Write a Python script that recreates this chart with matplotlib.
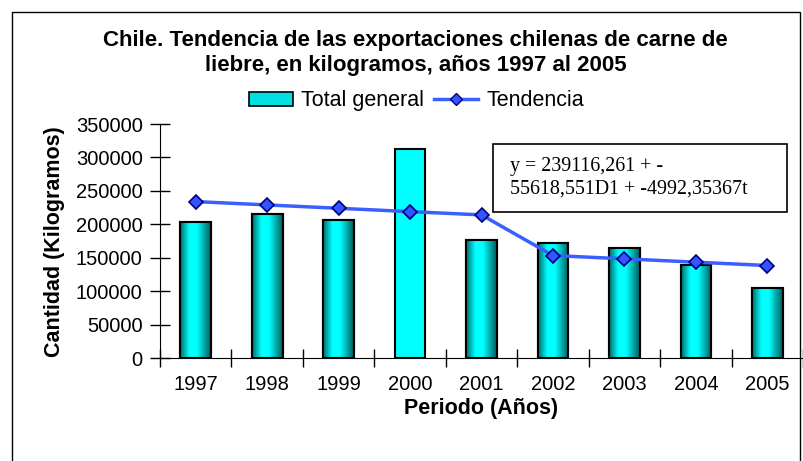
import numpy as np
import matplotlib
matplotlib.use("Agg")
import matplotlib.pyplot as plt
from matplotlib.colors import LinearSegmentedColormap
from matplotlib.patches import Rectangle
from matplotlib.lines import Line2D

anios = ["1997", "1998", "1999", "2000", "2001", "2002", "2003", "2004", "2005"]
total_general = [204000, 215000, 206500, 313000, 177000, 172500, 165000, 139700, 104900]
tendencia = [234100, 229100, 224100, 219100, 214200, 153500, 148600, 143600, 138600]
yticks = [0, 50000, 100000, 150000, 200000, 250000, 300000, 350000]

plt.rcParams['font.family'] = ['Liberation Sans', 'DejaVu Sans']

fig = plt.figure(figsize=(8.04, 4.61), dpi=100)
ax = fig.add_axes([0.199, 0.2228, 0.7998, 0.5082])

# borde exterior del grafico
fig.patches.append(Rectangle((12/804, -0.05), 788/804, 1.05 - 12/461, transform=fig.transFigure,
                             fill=False, edgecolor="black", linewidth=1.0))

x = np.arange(len(anios))
barras = ax.bar(x, total_general, width=0.43, color="#00FFFF", edgecolor="black",
                linewidth=1.5, zorder=2, label="Total general")

# degradado horizontal de las barras (excepto 2000 que es plana)
cmap = LinearSegmentedColormap.from_list("cian", [(0.0, (0, 0.42, 0.42)), (0.3, (0, 1, 1)),
                                                   (0.55, (0, 1, 1)), (1.0, (0, 0.36, 0.36))])
grad = np.linspace(0, 1, 100).reshape(1, -1)
for k, b in enumerate(barras):
    if anios[k] == "2000":
        continue
    im = ax.imshow(grad, cmap=cmap, aspect="auto", zorder=2.1,
                   extent=[b.get_x(), b.get_x() + b.get_width(), 0, b.get_height()])
    im.set_clip_path(b)
    ax.add_patch(Rectangle((b.get_x(), 0), b.get_width(), b.get_height(), fill=False,
                           edgecolor="black", linewidth=1.5, zorder=2.2))

ax.plot(x, tendencia, color="#3A5FFF", linewidth=2.5, marker="D", markersize=7,
        markerfacecolor="#3355FF", markeredgecolor="#000080", markeredgewidth=1.2,
        zorder=3, label="Tendencia")

ax.set_xlim(-0.5, len(anios) - 0.5)
ax.set_ylim(0, 350000)
ax.set_yticks(yticks)
ax.set_yticklabels([str(v) for v in yticks], fontsize=14.5)
ax.set_xticks(np.arange(len(anios) + 1) - 0.5)
ax.set_xticklabels([])
ax.set_xticks(x, minor=True)
ax.set_xticklabels(anios, minor=True, fontsize=14.5)
ax.tick_params(axis="x", which="minor", length=0, pad=12)
ax.tick_params(axis="x", which="major", direction="inout", length=13, width=1)
ax.tick_params(axis="y", which="major", direction="inout", length=15, width=1, pad=5)
ax.spines["top"].set_visible(False)
ax.spines["right"].set_visible(False)

ax.set_ylabel("Cantidad (Kilogramos)", fontsize=15.5, fontweight="bold", labelpad=8)
ax.set_xlabel("Periodo (Años)", fontsize=15.5, fontweight="bold", labelpad=3)

fig.text(0.517, 0.885, "Chile. Tendencia de las exportaciones chilenas de carne de\n"
         "liebre, en kilogramos, años 1997 al 2005", ha="center", va="center",
         fontsize=16, fontweight="bold", linespacing=1.3)

handles = [Rectangle((0, 0), 1, 1, facecolor="#00E0E0", edgecolor="black", linewidth=1.2),
           Line2D([], [], color="#3A5FFF", linewidth=2.5, marker="D", markersize=6,
                  markerfacecolor="#3355FF", markeredgecolor="#000080")]
fig.legend(handles, ["Total general", "Tendencia"], loc="center", bbox_to_anchor=(0.518, 0.781),
           ncol=2, frameon=False, fontsize=15.5, handlelength=2.05, handletextpad=0.37,
           columnspacing=0.47, handleheight=0.6)

# cuadro de la ecuacion
ax.add_patch(Rectangle((0.518, 0.625), 0.457, 0.29, transform=ax.transAxes, facecolor="white",
                       edgecolor="black", linewidth=1.2, zorder=5))
ax.text(0.545, 0.86, "y = 239116,261 + -\n55618,551D1 + -4992,35367t", transform=ax.transAxes,
        ha="left", va="top", fontsize=14.4, family=["Liberation Serif", "DejaVu Serif"],
        linespacing=1.3, zorder=6)

fig.savefig("out.png", dpi=100)
